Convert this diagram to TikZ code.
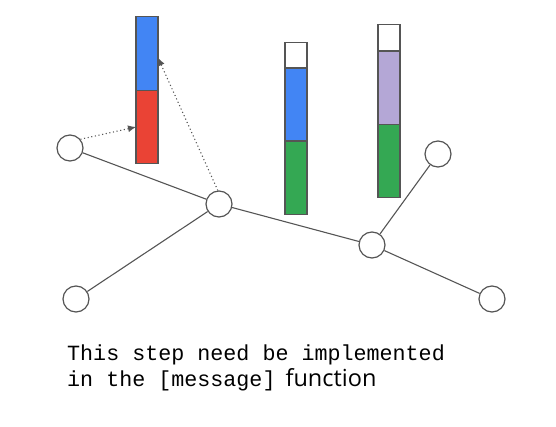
\documentclass[tikz,border=0pt]{standalone}
\usepackage{fontspec}
\newfontfamily\monofont{Liberation Mono}
\newfontfamily\sansfont{Open Sans}
\usetikzlibrary{arrows.meta,calc}
\definecolor{gblue}{HTML}{4285F4}
\definecolor{gred}{HTML}{EA4335}
\definecolor{ggreen}{HTML}{34A853}
\definecolor{gpurple}{HTML}{B4A7D6}
\definecolor{edgec}{HTML}{555555}
\begin{document}
\begin{tikzpicture}[x=1pt,y=-1pt,
  vert/.style={circle,draw=edgec,fill=white,line width=1.2pt,minimum size=26pt,inner sep=0pt},
  edge/.style={draw=edgec,line width=1.1pt},
  seg/.style={draw=edgec,line width=1.3pt,minimum width=22pt,inner sep=0pt,outer sep=0pt,anchor=north},
  msg/.style={draw=edgec,line width=1.1pt,dash pattern=on 1.1pt off 2.6pt,-{Latex[length=8pt,width=7pt]}},
  lbl/.style={anchor=base west,inner sep=0pt,font=\fontsize{21.7}{24}\selectfont}]
\path[use as bounding box] (0,0) rectangle (556,427);
% vertices
\node[vert] (A) at (70,148) {};
\node[vert] (B) at (219,204) {};
\node[vert] (C) at (76,299) {};
\node[vert] (D) at (372,245) {};
\node[vert] (E) at (438,154) {};
\node[vert] (F) at (492,299) {};
% edges
\draw[edge] (A) -- (B);
\draw[edge] (B) -- (C);
\draw[edge] (B) -- (D);
\draw[edge] (D) -- (E);
\draw[edge] (D) -- (F);
% bar 1
\node[seg,fill=gblue,minimum height=74pt] (b1) at (147,16.7) {};
\node[seg,fill=gred,minimum height=72.6pt] (r1) at (147,90.7) {};
% bar 2
\node[seg,fill=white,minimum height=25.7pt] (w2) at (296,42.3) {};
\node[seg,fill=gblue,minimum height=73pt] (b2) at (296,68) {};
\node[seg,fill=ggreen,minimum height=73.3pt] (g2) at (296,141) {};
% bar 3
\node[seg,fill=white,minimum height=26.3pt] (w3) at (389,24.7) {};
\node[seg,fill=gpurple,minimum height=73.3pt] (p3) at (389,51) {};
\node[seg,fill=ggreen,minimum height=73pt] (g3) at (389,124.3) {};
% dotted message arrows
\draw[msg] (A.40) -- (r1.west);
\draw[msg] (B.95) -- ($(b1.east)+(0,4)$);
% text
\node[lbl] (t1) at (67,360) {\monofont This step need be implemented};
\node[lbl] (t2) at (67,386) {\monofont in the [message]\hspace{10pt}\sansfont\fontsize{23.5}{26}\selectfont function};
\end{tikzpicture}
\end{document}
